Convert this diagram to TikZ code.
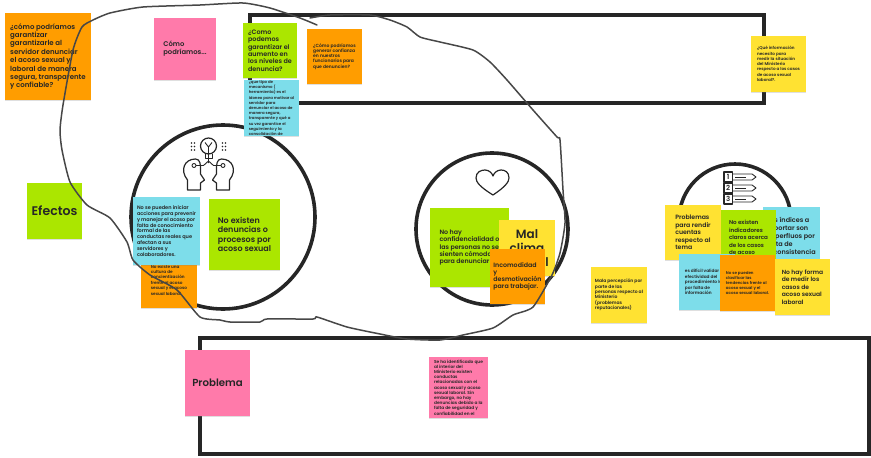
\documentclass[tikz,border=0pt]{standalone}
\usepackage{fontspec}
\setmainfont[BoldFont={Poppins SemiBold}]{Poppins}
\usetikzlibrary{shadows}
\definecolor{tangerine}{RGB}{255, 157, 0}
\definecolor{bubblegum}{RGB}{255, 122, 170}
\definecolor{lime}{RGB}{171, 230, 0}
\definecolor{lemon}{RGB}{255, 226, 50}
\definecolor{skyblue}{RGB}{125, 221, 234}
\definecolor{inkblack}{RGB}{38, 38, 38}
\tikzset{
    sticky/.style={rectangle, inner sep=0pt, align=left, text=inkblack,
        drop shadow={opacity=0.25, shadow xshift=0pt, shadow yshift=-1pt, shadow scale=1}},
    lettering/.style 2 args={font=\bfseries\fontsize{#1}{#2}\selectfont},
    frameline/.style={draw=inkblack, line width=3.6pt},
    iconline/.style={draw=inkblack, line width=1.2pt, line join=round},
    freehand/.style={draw=inkblack!85, line width=1.5pt, line join=round, line cap=round}
}
\begin{document}
\begin{tikzpicture}[x=1pt, y=-1pt]
            \useasboundingbox (0, 0) rectangle (871, 458);
            % Frames
            \draw[frameline] (250, 15) rectangle (764, 103);
            \draw[frameline] (200, 338) rectangle (869, 454);
            \draw[frameline] (223, 217) circle (92);
            \draw[frameline] (492, 229) circle (76);
            \draw[frameline] (735, 220) circle (56);
            % Icon: heads and bulb
            \draw[iconline] (208.5, 146) circle (8);
            \draw[iconline, line width=0.9pt] (205, 153.5) -- (205, 158) -- (212, 158) -- (212, 153.5);
            \draw[iconline, line width=0.9pt] (208.5, 163) -- (208.5, 147) (205, 142.5) -- (208.5, 147) -- (212, 142.5);
            \foreach \side in {1, -1} {
                \begin{scope}[shift={(208.5, 0)}, xscale=\side]
                    \draw[iconline] (-8, 190) -- (-21, 190) -- (-21, 180)
                        .. controls (-29, 170) and (-24, 159) .. (-13, 159)
                        .. controls (-8, 159) and (-8, 165) .. (-8, 170)
                        -- (-8, 174) -- (-4, 180) -- (-8, 183) -- cycle;
                    \draw[iconline, line width=0.9pt] (-14.5, 165.5) circle (2) (-12.5, 165.5) -- (-5, 165.5) -- (0, 161);
                    \foreach \dy in {143, 146.5, 150} {
                        \fill[inkblack] (-17, \dy) circle (0.8);
                        \fill[inkblack] (-14, \dy) circle (0.8);
                    }
                \end{scope}
            }
            % Icon: heart
            \draw[iconline] (493, 195) .. controls (480, 187) and (476, 182) .. (476, 178)
                .. controls (476, 172) and (481, 170) .. (485, 170)
                .. controls (489, 170) and (492, 173) .. (493, 176)
                .. controls (494, 173) and (497, 170) .. (501, 170)
                .. controls (505, 170) and (509, 172) .. (509, 178)
                .. controls (509, 182) and (505, 187) .. (493, 195) -- cycle;
            % Icon: numbered list
            \foreach \n/\y in {1/177, 2/188, 3/199} {
                \draw[iconline, fill=white] (724, \y-5) rectangle (732.5, \y+5);
                \node[lettering={7}{7}, text=inkblack, inner sep=0pt] (num\n) at (728.2, \y) {\n};
                \draw[iconline, line width=0.9pt] (733, \y-3) -- (752, \y-3) -- (756, \y) -- (752, \y+3) -- (733, \y+3);
                \draw[iconline, line width=0.9pt] (735, \y) -- (746, \y);
            }
            % Ideas, top
            \node[sticky, lettering={7}{8.4}, fill=tangerine, minimum width=86, minimum height=87]
                (ideaseguro) at (48, 56.5) {¿cómo podríamos\\garantizar\\garantizarle al\\servidor denunciar\\el acoso sexual y\\laboral de manera\\segura, transparente\\y confiable?};
            \node[sticky, lettering={6.8}{8.2}, fill=bubblegum, minimum width=62, minimum height=62]
                (comopodriamos) at (185, 49) {Cómo\\podríamos...};
            \node[sticky, lettering={6.4}{7.4}, fill=lime, minimum width=54, minimum height=55]
                (ideaniveles) at (270, 50.5) {¿Como\\podemos\\garantizar el\\aumento en\\los niveles de\\denuncia?};
            \node[sticky, lettering={4.5}{5.2}, fill=tangerine, minimum width=55, minimum height=55]
                (ideaconfianza) at (334.5, 56.5) {¿Cómo podríamos\\generar confianza\\en nuestros\\funcionarios para\\que denuncien?};
            \node[sticky, lettering={3.9}{5.2}, fill=skyblue, minimum width=55, minimum height=56]
                (ideamecanismo) at (271.5, 108) {¿que tipo de\\mecanismo (\\herramienta) es el\\idoneo para motivar al\\servidor para\\denunciar el acoso de\\manera segura,\\transparente y qué a\\su vez garantice el\\seguimiento y la\\consolidación de};
            \node[sticky, lettering={4.15}{5.3}, fill=lemon, minimum width=55, minimum height=56]
                (ideainfo) at (778.5, 64) {¿Qué información\\necesito para\\medir la situación\\del Ministerio\\respecto a los casos\\de acoso sexual\\laboral?.};
            % Efectos
            \node[sticky, lettering={12.5}{14}, fill=lime, minimum width=55, minimum height=56, align=center]
                (efectos) at (54.5, 211) {Efectos};
            % First circle
            \node[sticky, lettering={4.2}{5.4}, fill=tangerine, minimum width=56, minimum height=56]
                (cultura) at (169, 280) {No existe una\\cultura de\\concientización\\frente al acoso\\sexual y el acoso\\sexual laboral.};
            \node[sticky, lettering={5}{5.9}, fill=skyblue, minimum width=67, minimum height=68]
                (iniciar) at (166.5, 231) {No se pueden iniciar\\acciones para prevenir\\y manejar el acoso por\\falta de conocimiento\\formal de las\\conductas reales que\\afectan a sus\\servidores y\\colaboradores.};
            \node[sticky, lettering={8}{9.4}, fill=lime, minimum width=71, minimum height=71]
                (noexisten) at (244.5, 234.5) {No existen\\denuncias o\\procesos por\\acoso sexual};
            % Second circle
            \node[sticky, lettering={6.3}{7.4}, fill=lime, minimum width=79, minimum height=79]
                (confidencial) at (469.5, 247.5) {No hay\\confidencialidad o\\las personas no se\\sienten cómodas\\para denunciar};
            \node[sticky, lettering={12}{14}, fill=lemon, minimum width=56, minimum height=56, align=center]
                (malclima) at (527, 248) {Mal\\clima\\laboral};
            \node[sticky, lettering={6.3}{7.2}, fill=tangerine, minimum width=55, minimum height=55]
                (incomodidad) at (517.5, 276.5) {Incomodidad\\y\\desmotivación\\para trabajar.};
            \node[sticky, lettering={4.5}{5.4}, fill=lemon, minimum width=56, minimum height=56]
                (percepcion) at (619, 295) {Mala percepción por\\parte de las\\personas respecto al\\Ministerio\\(problemas\\reputacionales)};
            % Third circle
            \node[sticky, lettering={6.5}{7.9}, fill=skyblue, minimum width=57, minimum height=58]
                (indices) at (791.5, 236) {Los índices a\\reportar son\\superfluos por\\falta de\\inconsistencia};
            \node[sticky, lettering={5.6}{7.4}, fill=lime, minimum width=55, minimum height=55]
                (indicadores) at (748.5, 237.5) {No existen\\indicadores\\claros acerca\\de los casos\\de acoso};
            \node[sticky, lettering={6.2}{7.4}, fill=lemon, minimum width=56, minimum height=55]
                (rendir) at (693, 232.5) {Problemas\\para rendir\\cuentas\\respecto al\\tema};
            \node[sticky, lettering={4.3}{5.4}, fill=skyblue, minimum width=56, minimum height=56]
                (validar) at (707, 282) {es difícil validar la\\efectividad del\\procedimiento legal\\por falta de\\información};
            \node[sticky, lettering={4}{5.2}, fill=tangerine, minimum width=55, minimum height=56]
                (clasificar) at (747.5, 283) {No se pueden\\clasificar las\\tendencias frente al\\acoso sexual y el\\acoso sexual laboral.};
            \node[sticky, lettering={6}{7.4}, fill=lemon, minimum width=55, minimum height=56]
                (medir) at (802.5, 287) {No hay forma\\de medir los\\casos de\\acoso sexual\\laboral};
            % Problema
            \node[sticky, lettering={10.2}{12}, fill=bubblegum, minimum width=65, minimum height=66, align=center]
                (problema) at (217.5, 383) {Problema};
            \node[sticky, lettering={4.3}{5.2}, fill=bubblegum, minimum width=59, minimum height=61]
                (hallazgo) at (458.5, 387.5) {Se ha identificado que\\al interior del\\Ministerio existen\\conductas\\relacionadas con el\\acoso sexual y acoso\\sexual laboral. Sin\\embargo, no hay\\denuncias debido a la\\falta de seguridad y\\confiabilidad en el};
            % Hand-drawn outline
            \draw[freehand] plot[smooth, tension=0.35] coordinates {
                (317, 25) (300, 18) (270, 8) (243, 3) (200, 5) (143, 7) (110, 13) (93, 20) (82, 27)
                (73, 50) (63, 105) (60, 130) (62, 150) (70, 182) (87, 205) (110, 218) (127, 242)
                (133, 260) (150, 275) (177, 290) (200, 317) (220, 320) (230, 322) (260, 322)
                (267, 319) (313, 319) (317, 317) (347, 327) (380, 334) (407, 339) (440, 340)
                (463, 335) (493, 328) (513, 315) (533, 307) (552, 275) (560, 253) (565, 223)
                (563, 190) (560, 140) (557, 137) (533, 110) (507, 80) (490, 62) (473, 50)
                (440, 42) (420, 37) (407, 27) (390, 20) (370, 15) (330, 15) (310, 18)
            };
\end{tikzpicture}
\end{document}
